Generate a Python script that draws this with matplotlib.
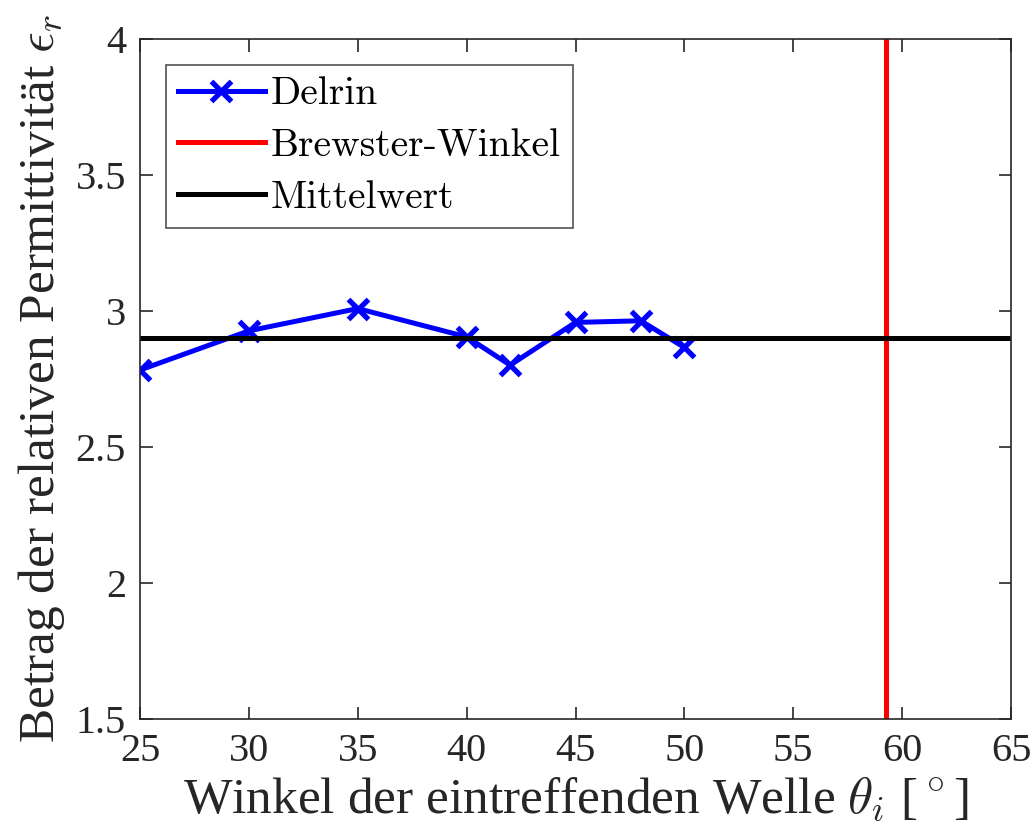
import matplotlib
matplotlib.use("Agg")
import matplotlib.pyplot as plt

plt.rcParams['font.family'] = ['Liberation Serif', 'DejaVu Serif']
plt.rcParams['mathtext.fontset'] = 'cm'

angles = [25, 30, 35, 40, 42, 45, 48, 50]
eps_delrin = [2.783, 2.927, 3.009, 2.905, 2.801, 2.958, 2.964, 2.866]
brewster_angle = 59.25
mean_value = 2.899

xticks = [25, 30, 35, 40, 45, 50, 55, 60, 65]
yticks = [1.5, 2, 2.5, 3, 3.5, 4]
yticklabels = ['1.5', '2', '2.5', '3', '3.5', '4']

fig = plt.figure(figsize=(10.34, 8.32), dpi=100)
ax = fig.add_axes([140/1034, 1-719/832, (1011-140)/1034, (719-39)/832])

ax.plot(angles, eps_delrin, color='#0000ff', lw=3.6, marker='x', ms=15, mew=3.8, label='Delrin')
ax.axvline(brewster_angle, color='#ff0000', lw=3.6, label='Brewster-Winkel')
ax.axhline(mean_value, color='black', lw=3.6, label='Mittelwert')

ax.set_xlim(25, 65)
ax.set_ylim(1.5, 4)
ax.set_xticks(xticks)
ax.set_yticks(yticks)
ax.set_yticklabels(yticklabels)
ax.tick_params(direction='in', top=True, right=True, length=9, width=1.2,
               labelsize=29, colors='#262626', pad=10)
for sp in ax.spines.values():
    sp.set_linewidth(1.2)
    sp.set_color('#262626')

ax.set_xlabel(r'Winkel der eintreffenden Welle $\theta_i$ [$^\circ$]', fontsize=37, color='#262626', labelpad=4)
ax.set_ylabel(r'Betrag der relativen Permittivität $\epsilon_r$', fontsize=37, color='#262626', labelpad=6)

leg = ax.legend(loc='upper left', prop={'family': 'cmr10', 'size': 28.5}, frameon=True, fancybox=False,
                edgecolor='#262626', handlelength=2.2, handletextpad=0.15,
                borderpad=0.3, labelspacing=0.4, borderaxespad=0.65)
leg.get_frame().set_linewidth(1.2)

fig.savefig('out.png', dpi=100)
